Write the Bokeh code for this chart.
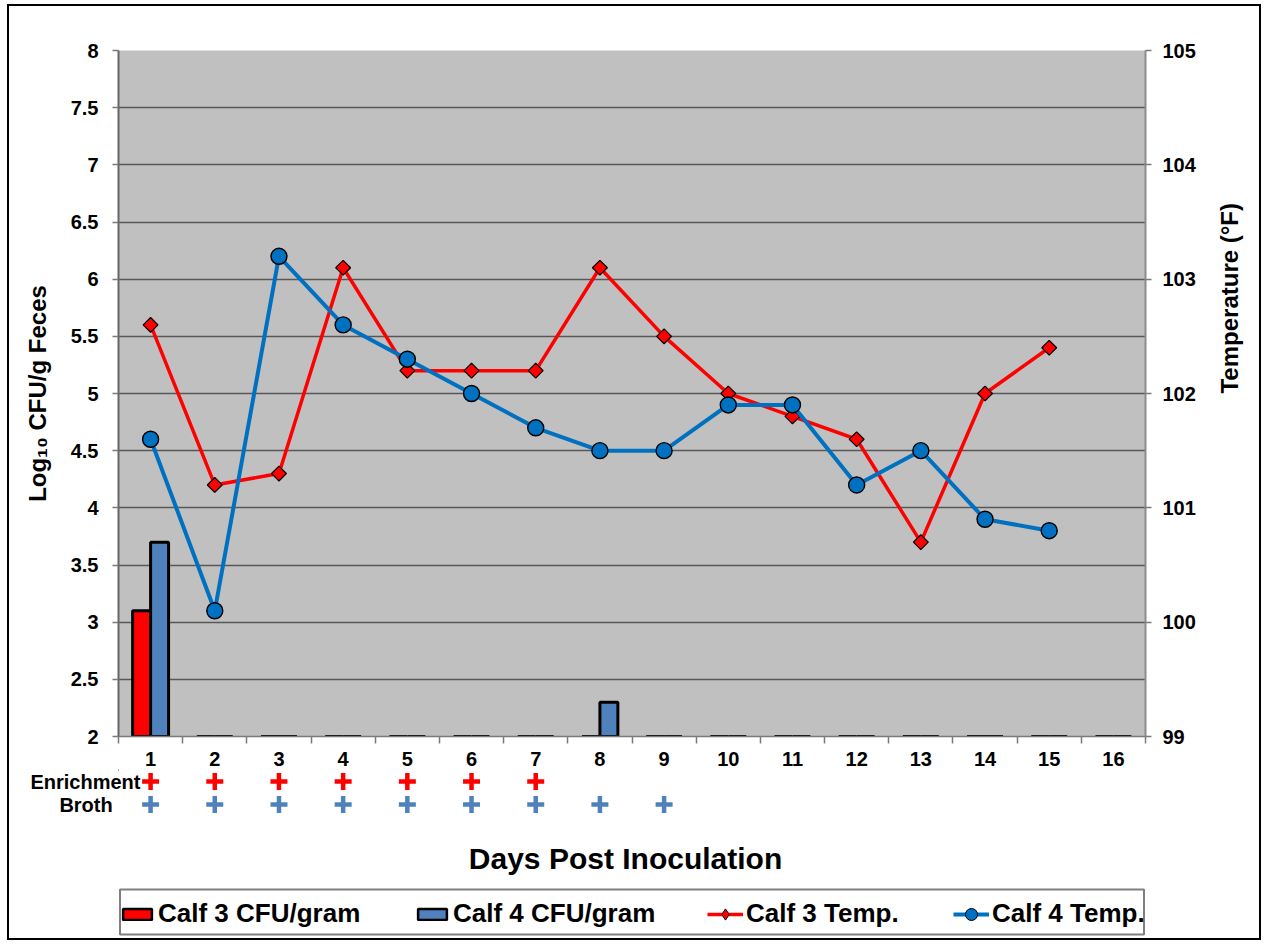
import math
import numpy as np
from bokeh.plotting import figure
from bokeh.layouts import column
from bokeh.models import (Range1d, LinearAxis, FixedTicker, NumeralTickFormatter,
                          Legend, LegendItem)
from bokeh.core.properties import value
from bokeh.embed import file_html
from bokeh.resources import INLINE

# ---------------- data ----------------
days = list(range(1, 17))
calf3_cfu = [3.1, 0, 0, 0, 0, 0, 0, 0, 0, 0, 0, 0, 0, 0, 0, 0]
calf4_cfu = [3.7, 0, 0, 0, 0, 0, 0, 2.3, 0, 0, 0, 0, 0, 0, 0, 0]
temp_days = list(range(1, 16))
calf3_temp = [102.6, 101.2, 101.3, 103.1, 102.2, 102.2, 102.2, 103.1, 102.5,
              102.0, 101.8, 101.6, 100.7, 102.0, 102.4]
calf4_temp = [101.6, 100.1, 103.2, 102.6, 102.3, 102.0, 101.7, 101.5, 101.5,
              101.9, 101.9, 101.2, 101.5, 100.9, 100.8]
enrichment_days = [1, 2, 3, 4, 5, 6, 7]
broth_days = [1, 2, 3, 4, 5, 6, 7, 8, 9]
left_ticks = [2, 2.5, 3, 3.5, 4, 4.5, 5, 5.5, 6, 6.5, 7, 7.5, 8]
right_ticks = [99, 100, 101, 102, 103, 104, 105]
series_names = ["Calf 3 CFU/gram", "Calf 4 CFU/gram", "Calf 3 Temp.", "Calf 4 Temp."]
row_names = ["Enrichment", "Broth"]
x_title = "Days Post Inoculation"
y_title = "Log\u2081\u2080 CFU/g Feces"
y2_title = "Temperature (\u00b0F)"

# ---------------- layout constants ----------------
FONT = "Liberation Sans"
W = 1250
ML, MR, MT, MB = 109, 110, 44, 33
FH = 686
H1 = MT + FH + MB
H2 = 932 - H1
FW = W - ML - MR
XMIN, XMAX = 0.5, 16.5
YMIN, YMAX = left_ticks[0], left_ticks[-1]
ppx = FW / (XMAX - XMIN)

RED = "#FF0000"
BAR_BLUE = "#4F81BD"
LINE_BLUE = "#0070C0"
GRAY = "#7a7a7a"

xr = Range1d(XMIN, XMAX)

# ================= main chart =================
p = figure(width=W, height=H1, output_backend="svg", toolbar_location=None,
           x_range=xr, y_range=Range1d(YMIN, YMAX),
           min_border_left=ML, min_border_right=MR, min_border_top=MT, min_border_bottom=MB,
           background_fill_color="#C0C0C0", border_fill_color="white",
           outline_line_color=None)
p.extra_y_ranges = {"temp": Range1d(right_ticks[0], right_ticks[-1])}

p.xgrid.visible = False
p.ygrid.ticker = FixedTicker(ticks=left_ticks)
p.ygrid.grid_line_color = "#575757"
p.ygrid.grid_line_width = 1.6

xa = p.xaxis[0]
xa.ticker = FixedTicker(ticks=days, minor_ticks=[dd - 0.5 for dd in days] + [days[-1] + 0.5])
xa.major_tick_out = 7
xa.major_tick_in = 0
xa.major_tick_line_color = None
xa.minor_tick_out = 7
xa.minor_tick_in = 0
xa.minor_tick_line_color = GRAY
xa.minor_tick_line_width = 1.5
xa.axis_line_color = GRAY
xa.axis_line_width = 1.5
xa.major_label_standoff = 8
xa.major_label_text_font = FONT
xa.major_label_text_font_style = "bold"
xa.major_label_text_font_size = "20px"
xa.major_label_text_color = "black"

ya = p.yaxis[0]
ya.ticker = FixedTicker(ticks=left_ticks)
ya.formatter = NumeralTickFormatter(format="0.[0]")
ya.major_tick_out = 6
ya.major_tick_in = 0
ya.minor_tick_out = 0
ya.minor_tick_in = 0
ya.major_tick_line_color = GRAY
ya.major_tick_line_width = 1.5
ya.axis_line_color = "#666666"
ya.axis_line_width = 2
ya.major_label_standoff = 14
ya.major_label_text_font = FONT
ya.major_label_text_font_style = "bold"
ya.major_label_text_font_size = "20px"
ya.major_label_text_color = "black"
ya.axis_label = y_title
ya.axis_label_text_font = FONT
ya.axis_label_text_font_style = "bold"
ya.axis_label_text_font_size = "24px"
ya.axis_label_text_color = "black"
ya.axis_label_standoff = 17

ra = LinearAxis(y_range_name="temp", ticker=FixedTicker(ticks=right_ticks),
                formatter=NumeralTickFormatter(format="0"))
ra.major_tick_out = 6
ra.major_tick_in = 0
ra.minor_tick_out = 0
ra.minor_tick_in = 0
ra.major_tick_line_color = GRAY
ra.major_tick_line_width = 1.5
ra.axis_line_color = "#8c8c8c"
ra.axis_line_width = 2
ra.major_label_standoff = 11
ra.major_label_text_font = FONT
ra.major_label_text_font_style = "bold"
ra.major_label_text_font_size = "20px"
ra.major_label_text_color = "black"
ra.axis_label = y2_title
ra.axis_label_text_font = FONT
ra.axis_label_text_font_style = "bold"
ra.axis_label_text_font_size = "24px"
ra.axis_label_text_color = "black"
ra.axis_label_standoff = 31
ra.axis_label_orientation = math.pi / 2
p.add_layout(ra, "right")

BW = 0.28
d = np.array(days, dtype=float)
top3 = np.maximum(np.array(calf3_cfu, dtype=float), YMIN)
top4 = np.maximum(np.array(calf4_cfu, dtype=float), YMIN)
p.vbar(x=d - BW / 2, top=top3, bottom=YMIN, width=BW,
       fill_color=RED, line_color="black", line_width=3)
p.vbar(x=d + BW / 2, top=top4, bottom=YMIN, width=BW,
       fill_color=BAR_BLUE, line_color="black", line_width=3)

p.line(temp_days, calf3_temp, y_range_name="temp", line_color=RED, line_width=3.5)
p.scatter(temp_days, calf3_temp, y_range_name="temp", marker="square", angle=math.pi / 4,
          size=10.5, fill_color=RED, line_color="black", line_width=1.2)
p.line(temp_days, calf4_temp, y_range_name="temp", line_color=LINE_BLUE, line_width=4)
p.scatter(temp_days, calf4_temp, y_range_name="temp", marker="circle",
          size=16, fill_color=LINE_BLUE, line_color="black", line_width=1.4)

# ================= lower panel (frame aligned with the chart) =================
ROW1, ROW2, TITLE_Y = 12, 35, 89
BOX_T, BOX_B = 120, 165

p2 = figure(width=W, height=H2, output_backend="svg", toolbar_location=None,
            x_range=xr, y_range=Range1d(H2, 0), x_axis_type=None,
            min_border_left=ML, min_border_right=MR, min_border_top=0, min_border_bottom=0,
            background_fill_color="white", border_fill_color="white",
            outline_line_color=None)
p2.xgrid.visible = False
p2.ygrid.visible = False

la = p2.yaxis[0]
la.ticker = FixedTicker(ticks=[ROW1, ROW2])
la.major_label_overrides = {ROW1: row_names[0], ROW2: row_names[1] + "\u00a0" * 5}
la.axis_line_color = None
la.major_tick_line_color = None
la.minor_tick_line_color = None
la.major_tick_out = 0
la.major_tick_in = 0
la.minor_tick_out = 0
la.minor_tick_in = 0
la.major_label_standoff = -22
la.major_label_text_font = FONT
la.major_label_text_font_style = "bold"
la.major_label_text_font_size = "20px"
la.major_label_text_color = "black"

# positive-result markers
p2.scatter(x=enrichment_days, y=[ROW1] * len(enrichment_days), marker="cross",
           size=17, line_color=RED, line_width=4.5)
p2.scatter(x=broth_days, y=[ROW2] * len(broth_days), marker="cross",
           size=17, line_color=BAR_BLUE, line_width=4.5)

p2.text(x=[XMIN + (627 - 118) / ppx], y=[TITLE_Y], text=[x_title], text_color="black",
        text_font=value(FONT), text_font_style="bold", text_font_size="30px",
        text_align="center", text_baseline="middle")

# legend frame
p2.quad(left=[XMIN + 1.5 / ppx], right=[XMAX - 1.5 / ppx], top=[BOX_T], bottom=[BOX_B],
        fill_color=None, line_color="#808080", line_width=2)

# legend glyph proxies (one point each, outside the visible range)
OFF = [XMIN - 100]
g3 = p2.vbar(x=OFF, top=[0], bottom=[0], width=BW, fill_color=RED,
             line_color="black", line_width=2.5)
g4 = p2.vbar(x=OFF, top=[0], bottom=[0], width=BW, fill_color=BAR_BLUE,
             line_color="black", line_width=2.5)
gl3 = p2.line(x=OFF, y=[0], line_color=RED, line_width=3.5)
gs3 = p2.scatter(x=OFF, y=[0], marker="diamond", size=12,
                 fill_color=RED, line_color="black", line_width=1)
gl4 = p2.line(x=OFF, y=[0], line_color=LINE_BLUE, line_width=4)
gs4 = p2.scatter(x=OFF, y=[0], marker="circle", size=12,
                 fill_color=LINE_BLUE, line_color="black", line_width=1)

PAD = 2
legend_specs = [([g3], series_names[0], 3, 14),
                ([g4], series_names[1], 298, 14),
                ([gl3, gs3], series_names[2], 591, 28),
                ([gl4, gs4], series_names[3], 837, 30)]
for rends, name, gx, gh in legend_specs:
    lg = Legend(items=[LegendItem(label=name, renderers=rends)],
                location=(gx - PAD, 9), orientation="horizontal",
                label_text_font=FONT, label_text_font_style="bold",
                label_text_font_size="26px", label_text_color="black",
                glyph_width=36, glyph_height=gh, label_standoff=3,
                padding=PAD, margin=0, border_line_color=None,
                background_fill_alpha=0)
    p2.add_layout(lg)

layout = column(p, p2, spacing=0,
                styles={"border": "2px solid black", "margin-left": "7px", "margin-top": "4px"})
open("out.html", "w").write(file_html(layout, INLINE))
